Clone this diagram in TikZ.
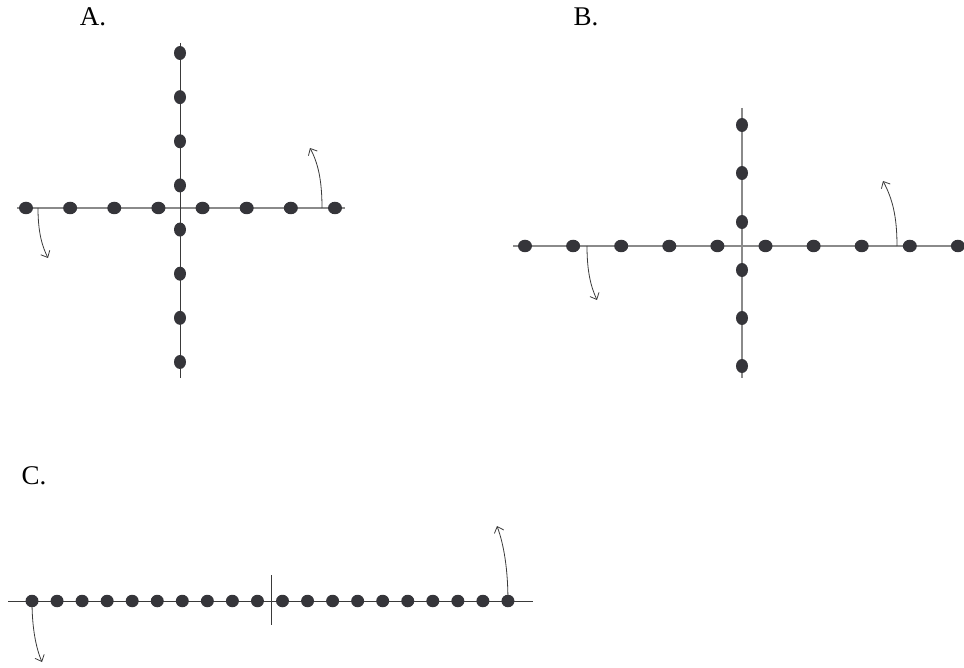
\documentclass[tikz,border=0pt]{standalone}
\usepackage{fontspec}
\setmainfont{Liberation Serif}
\usetikzlibrary{arrows.meta,shapes.geometric}
\definecolor{dotc}{HTML}{35353A}
\definecolor{lgray}{HTML}{8A8A8A}
\definecolor{dgray}{HTML}{3A3A3A}
\begin{document}
\begin{tikzpicture}[x=1pt,y=-1pt,
  hdot/.style={ellipse,fill=dotc,inner sep=0pt,minimum width=14pt,minimum height=12.5pt},
  vdot/.style={ellipse,fill=dotc,inner sep=0pt,minimum width=12pt,minimum height=14pt},
  axisl/.style={line width=1.1pt,lgray},
  axisd/.style={line width=1pt,dgray},
  curvarrow/.style={line width=0.8pt,dgray,-{Straight Barb[length=5.5pt,width=10pt]}},
  lbl/.style={font=\fontsize{27}{27}\selectfont,text=black,inner sep=0pt}]
\useasboundingbox (0,0) rectangle (964,668);

% Labels
\node[lbl] (la) at (93,17) {A.};
\node[lbl] (lb) at (586,17) {B.};
\node[lbl] (lc) at (34,476) {C.};

% ---------- Panel A ----------
\coordinate (aL) at (17,208);
\coordinate (aR) at (345,208);
\coordinate (aT) at (180,43);
\coordinate (aB) at (180,378);
\draw[axisl] (aL) -- (aR);
\draw[axisd] (aT) -- (aB);
\foreach \i in {0,...,7}{
  \node[hdot] (ah\i) at ({26+44.14*\i},208) {};
  \node[vdot] (av\i) at (180,{53+44.14*\i}) {};
}
\coordinate (aas) at (322,208);
\coordinate (aae) at (310,148);
\draw[curvarrow] (aas) .. controls (322,180) and (318,163) .. (aae);
\coordinate (abs) at (38,208);
\coordinate (abe) at (48,258);
\draw[curvarrow] (abs) .. controls (38,232) and (42,246) .. (abe);

% ---------- Panel B ----------
\coordinate (bL) at (513,246);
\coordinate (bR) at (964,246);
\coordinate (bT) at (742,108);
\coordinate (bB) at (742,378);
\draw[axisl] (bL) -- (bR);
\draw[axisl] (bT) -- (bB);
\foreach \i in {0,...,9}{
  \node[hdot] (bh\i) at ({525+48.1*\i},246) {};
}
\foreach \y [count=\i] in {125,173,222,270,318,366}{
  \node[vdot] (bv\i) at (742,\y) {};
}
\coordinate (bas) at (897,246);
\coordinate (bae) at (883,181);
\draw[curvarrow] (bas) .. controls (897,215) and (892,198) .. (bae);
\coordinate (bbs) at (587,246);
\coordinate (bbe) at (597,300);
\draw[curvarrow] (bbs) .. controls (587,272) and (591,287) .. (bbe);

% ---------- Panel C ----------
\coordinate (cL) at (8,601);
\coordinate (cR) at (533,601);
\coordinate (cT) at (271,575);
\coordinate (cB) at (271,625);
\draw[axisd] (cL) -- (cR);
\draw[axisd] (cT) -- (cB);
\foreach \i in {0,...,19}{
  \node[hdot,minimum width=13pt,minimum height=12.5pt] (ch\i) at ({32+25.05*\i},601) {};
}
\draw[curvarrow] (ch19.center) .. controls (508,570) and (504,545) .. (497,526);
\coordinate (cbe) at (42,662);
\draw[curvarrow] (ch0.center) .. controls (32,628) and (36,648) .. (cbe);
\end{tikzpicture}
\end{document}
